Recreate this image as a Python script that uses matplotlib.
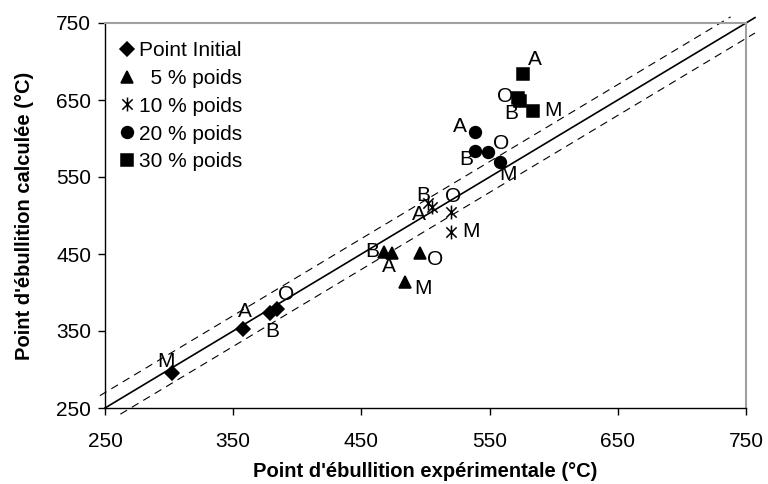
from matplotlib import pyplot as plt
from matplotlib.path import Path
import numpy as np

plt.rcParams['font.family'] = ['Liberation Sans', 'DejaVu Sans']

labels = ['A', 'B', 'O', 'M']
init_x = [358, 379, 384, 302]
init_y = [352, 373, 378, 296]
p5_x = [474, 468, 496, 484]
p5_y = [451, 453, 451, 414]
p10_x = [505, 502, 520, 520]
p10_y = [511, 516, 504, 479]
p20_x = [539, 539, 549, 558]
p20_y = [609, 584, 583, 569]
p30_x = [576, 574, 572, 584]
p30_y = [684, 649, 652, 636]
series_names = ['Point Initial', '  5 % poids', '10 % poids', '20 % poids', '30 % poids']
ticks = [250, 350, 450, 550, 650, 750]
band = 20

# label offsets in pixels (dx, dy) for A, B, O, M of each series
off_init = [(1, 18), (2, -18), (9, 15), (-6, 11)]
off_5 = [(-3, -13), (-12, 0), (15, -6), (18, -7)]
off_10 = [(-13, -7), (-5, 8), (2, 16), (20, 0)]
off_20 = [(-16, 5), (-9, -9), (13, 8), (8, -12)]
off_30 = [(12, 14), (-9, -13), (-13, 2), (20, 0)]

star = Path([(-1, -1), (1, 1), (-1, 1), (1, -1), (0, -1.35), (0, 1.35)],
            [Path.MOVETO, Path.LINETO, Path.MOVETO, Path.LINETO, Path.MOVETO, Path.LINETO])

fig = plt.figure(figsize=(7.68, 4.84), dpi=100)
ax = fig.add_axes([105 / 768, 1 - 408 / 484, 641 / 768, 385 / 484])

# parity line and +/- band
xl = np.array([250, 757])
ax.plot(xl, xl, color='black', lw=1.2, clip_on=False, zorder=2)
xu = np.array([246, 738])
ax.plot(xu, xu + band, color='black', lw=0.8, ls=(0, (7, 5)), clip_on=False, zorder=2)
xd = np.array([262, 757])
ax.plot(xd, xd - band, color='black', lw=0.8, ls=(0, (7, 5)), clip_on=False, zorder=2)

series = [
    (init_x, init_y, 'D', 7, off_init),
    (p5_x, p5_y, '^', 8.5, off_5),
    (p10_x, p10_y, star, 10, off_10),
    (p20_x, p20_y, 'o', 8.5, off_20),
    (p30_x, p30_y, 's', 8, off_30),
]
for (sx, sy, mk, ms, offs), name in zip(series, series_names):
    ax.plot(sx, sy, ls='none', marker=mk, ms=ms, color='black', mew=1.1,
            label=name, zorder=3)
    for i in range(len(labels)):
        ax.annotate(labels[i], (sx[i], sy[i]), xytext=offs[i], textcoords='offset pixels',
                    ha='center', va='center', fontsize=15)

ax.set_xlim(250, 750)
ax.set_ylim(250, 750)
ax.set_xticks(ticks)
ax.set_yticks(ticks)
ax.tick_params(direction='out', length=5, width=1, labelsize=15, pad=5)
ax.tick_params(axis='x', pad=12)
for s in ['top', 'right']:
    ax.spines[s].set_color('#a0a0a0')
    ax.spines[s].set_linewidth(1.5)
for s in ['left', 'bottom']:
    ax.spines[s].set_linewidth(1)

ax.set_xlabel("Point d'ébullition expérimentale (°C)", fontsize=14.5, fontweight='bold', labelpad=8)
ax.set_ylabel("Point d'ébullition calculée (°C)", fontsize=14.5, fontweight='bold', labelpad=16)

ax.legend(loc='upper left', frameon=False, fontsize=15, handlelength=0.6, handletextpad=0.3,
          labelspacing=0.42, borderaxespad=0.2, bbox_to_anchor=(0.005, 0.985))

fig.savefig('out.png', dpi=100)
